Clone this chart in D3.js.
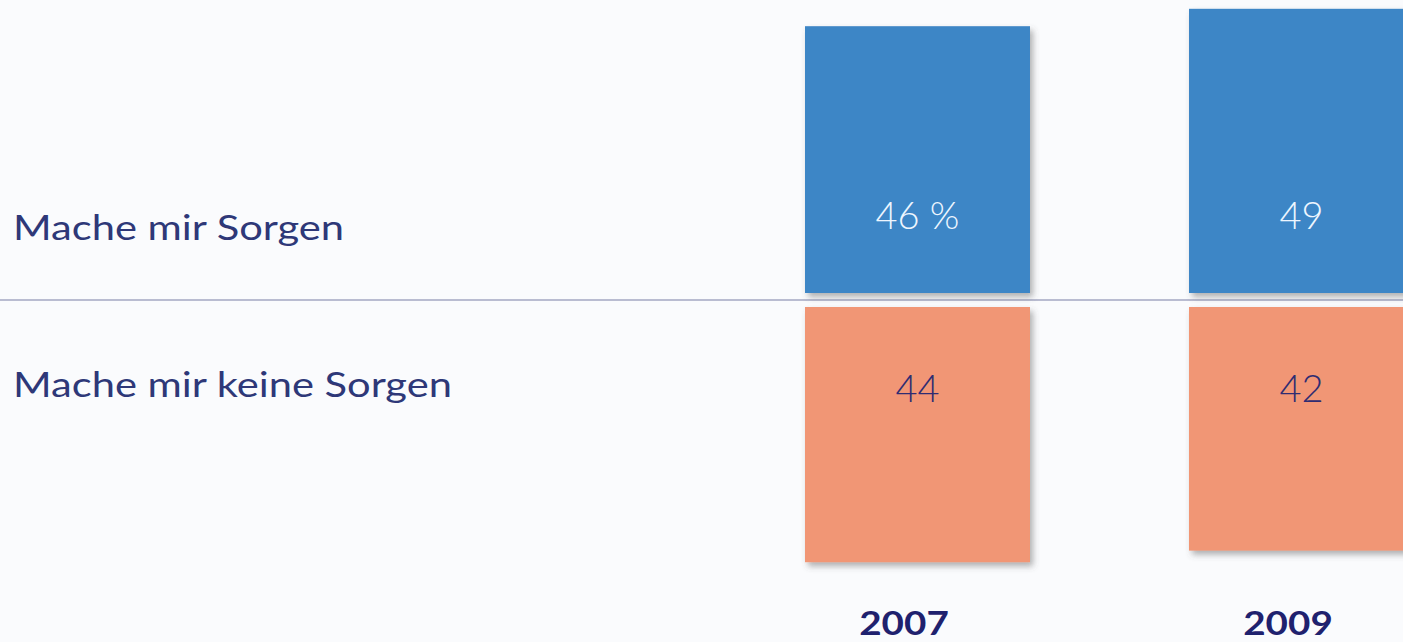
<!DOCTYPE html>
<html>
<head>
<meta charset="utf-8">
<script src="https://cdn.jsdelivr.net/npm/d3@7"></script>
<style>
  html, body { margin: 0; padding: 0; background: #fafbfd; overflow: hidden; }
  svg { display: block; }
  text { font-family: "Lato", "DejaVu Sans", sans-serif; }
</style>
</head>
<body>
<div id="chart"></div>
<script>
var years = ["2007", "2009"];
var categories = ["Mache mir Sorgen", "Mache mir keine Sorgen"];
var worried = [46, 49];
var notWorried = [44, 42];
var valueSuffix = [" %", ""];

var width = 1403, height = 642;
var baseline = 300;
var gap = 7;

var svg = d3.select("#chart")
            .append("svg")
              .attr("width", width)
              .attr("height", height);

var defs = svg.append("defs");
var shadow = defs.append("filter")
                 .attr("id", "shadow")
                 .attr("x", "-10%").attr("y", "-10%")
                 .attr("width", "130%").attr("height", "130%");
shadow.append("feDropShadow")
      .attr("dx", 3).attr("dy", 4)
      .attr("stdDeviation", 3)
      .attr("flood-color", "#555")
      .attr("flood-opacity", 0.45);

// the original face is a wide geometric sans, so stretch Lato a little
function widen(sel, factor) {
  sel.each(function() {
    var w = this.getComputedTextLength();
    d3.select(this)
      .attr("textLength", w * factor)
      .attr("lengthAdjust", "spacingAndGlyphs");
  });
}

var xScale = d3.scaleBand()
               .domain(years)
               .range([805, 1414])
               .paddingInner(0.4141)
               .paddingOuter(0);

var hScale = d3.scaleLinear()
               .domain([0, 50])
               .range([0, 290]);

var data = years.map(function(y, i) {
  return { year: y, up: worried[i], down: notWorried[i], suffix: valueSuffix[i] };
});

// baseline rule
svg.append("line")
   .attr("x1", 0).attr("x2", width)
   .attr("y1", baseline).attr("y2", baseline)
   .attr("stroke", "#a3a7c2")
   .attr("stroke-width", 1.5);

var cols = svg.selectAll(".col")
              .data(data)
              .enter()
              .append("g")
                .attr("class", "col");

cols.append("rect")
    .attr("x", d => xScale(d.year))
    .attr("y", d => baseline - gap - hScale(d.up))
    .attr("width", xScale.bandwidth())
    .attr("height", d => hScale(d.up))
    .attr("fill", "#3d86c6")
    .attr("filter", "url(#shadow)");

cols.append("rect")
    .attr("x", d => xScale(d.year))
    .attr("y", baseline + gap)
    .attr("width", xScale.bandwidth())
    .attr("height", d => hScale(d.down))
    .attr("fill", "#f19674")
    .attr("filter", "url(#shadow)");

cols.append("text")
    .text(d => d.up + d.suffix)
    .attr("x", d => xScale(d.year) + xScale.bandwidth() / 2)
    .attr("y", baseline - gap - 64)
    .attr("text-anchor", "middle")
    .attr("font-size", 38)
    .attr("font-weight", 300)
    .attr("fill", "#eef6ff");

cols.append("text")
    .text(d => d.down)
    .attr("x", d => xScale(d.year) + xScale.bandwidth() / 2)
    .attr("y", baseline + gap + 95)
    .attr("text-anchor", "middle")
    .attr("font-size", 38)
    .attr("font-weight", 300)
    .attr("fill", "#2f2c72");

cols.append("text")
    .attr("class", "year")
    .text(d => d.year)
    .attr("x", d => xScale(d.year) + 99)
    .attr("y", 635)
    .attr("text-anchor", "middle")
    .attr("font-size", 33)
    .attr("font-weight", 700)
    .attr("fill", "#1f216e");
widen(svg.selectAll(".year"), 1.17);

svg.selectAll(".cat")
   .data(categories)
   .enter()
   .append("text")
     .attr("class", "cat")
     .text(d => d)
     .attr("x", 13)
     .attr("y", (d, i) => i === 0 ? 240 : 397)
     .attr("font-size", 35)
     .attr("fill", "#2e3878");
widen(svg.selectAll(".cat"), 1.19);
</script>
</body>
</html>
